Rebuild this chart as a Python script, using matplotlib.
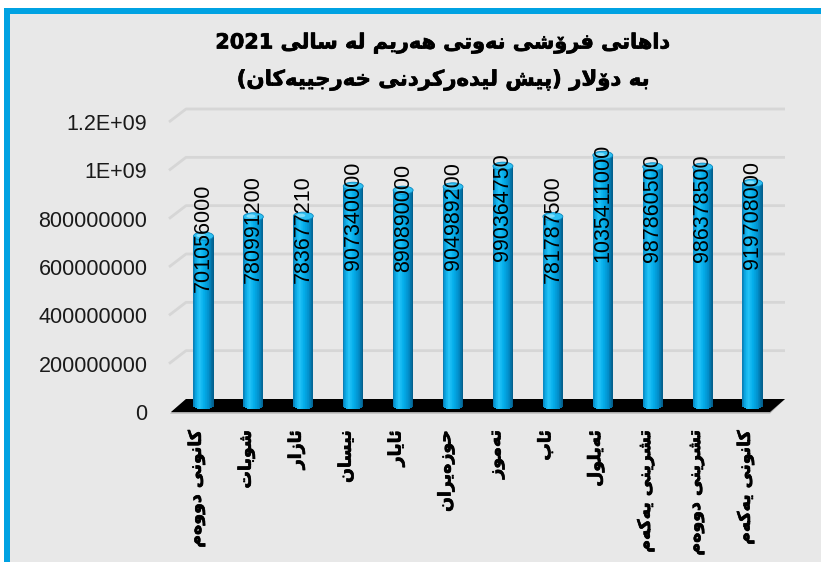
import numpy as np
import matplotlib
matplotlib.use('Agg')
import matplotlib.pyplot as plt
from matplotlib import font_manager, ft2font
from matplotlib.font_manager import FontProperties
from matplotlib.patches import Rectangle, Ellipse
from matplotlib.lines import Line2D
import matplotlib.patheffects as pe
import matplotlib.colors as mcolors

# ---------------- data ----------------
months = ['کانونی دووەم', 'شوبات', 'ئازار', 'نیسان', 'ئایار', 'حوزەیران',
          'تەموز', 'ئاب', 'ئەیلول', 'تشرینی یەکەم', 'تشرینی دووەم', 'کانونی یەکەم']
revenue = [701056000, 780991200, 783677210, 907340000, 890890000, 904989200,
           990364750, 781787500, 1035411000, 987860500, 986378500, 919708000]
value_labels = [str(v) for v in revenue]
ytick_values = [0, 2e8, 4e8, 6e8, 8e8, 1e9, 1.2e9]
ytick_labels = ['0', '200000000', '400000000', '600000000', '800000000', '1E+09', '1.2E+09']
title_line1 = 'داهاتی فرۆشی نەوتی هەرێم لە ساڵی 2021'
title_line2 = 'بە دۆلار (پێش لێدەرکردنی خەرجییەکان)'

# ---------------- minimal Arabic-script shaping ----------------
FORMS = {
    '\u0627': ('\uFE8D', '\uFE8E', None, None),
    '\u062F': ('\uFEA9', '\uFEAA', None, None),
    '\u0631': ('\uFEAD', '\uFEAE', None, None),
    '\u0632': ('\uFEAF', '\uFEB0', None, None),
    '\u0648': ('\uFEED', '\uFEEE', None, None),
    '\u06C6': ('\uFBD9', '\uFBDA', None, None),
    '\u06D5': ('\u06D5', '\uFEEA', None, None),
    '\u0647': ('\uFEE9', '\uFEEA', '\uFEEB', '\uFEEC'),
    '\u062A': ('\uFE95', '\uFE96', '\uFE97', '\uFE98'),
    '\u06CC': ('\uFBFC', '\uFBFD', '\uFBFE', '\uFBFF'),
    '\u06CE': ('\u06CE', '\uFBFD', '\uFBFE', '\uFBFF'),
    '\u0641': ('\uFED1', '\uFED2', '\uFED3', '\uFED4'),
    '\u0634': ('\uFEB5', '\uFEB6', '\uFEB7', '\uFEB8'),
    '\u0646': ('\uFEE5', '\uFEE6', '\uFEE7', '\uFEE8'),
    '\u0645': ('\uFEE1', '\uFEE2', '\uFEE3', '\uFEE4'),
    '\u0644': ('\uFEDD', '\uFEDE', '\uFEDF', '\uFEE0'),
    '\u06B5': ('\u06B5', '\uFEDE', '\uFEDF', '\uFEE0'),
    '\u0633': ('\uFEB1', '\uFEB2', '\uFEB3', '\uFEB4'),
    '\u0628': ('\uFE8F', '\uFE90', '\uFE91', '\uFE92'),
    '\u067E': ('\uFB56', '\uFB57', '\uFB58', '\uFB59'),
    '\u062E': ('\uFEA5', '\uFEA6', '\uFEA7', '\uFEA8'),
    '\u062C': ('\uFE9D', '\uFE9E', '\uFE9F', '\uFEA0'),
    '\u06A9': ('\uFB8E', '\uFB8F', '\uFB90', '\uFB91'),
    '\u0626': ('\uFE89', '\uFE8A', '\uFE8B', '\uFE8C'),
    '\u062D': ('\uFEA1', '\uFEA2', '\uFEA3', '\uFEA4'),
}
FALLBACK = {'\u06D5': '\uFEE9', '\u06CE': '\uFBFC', '\u06B5': '\uFEDD'}


def _dual(c):
    return c in FORMS and FORMS[c][2] is not None


def shape(text, cmap=None):
    chars = list(text)
    n = len(chars)
    out = []
    i = 0
    while i < n:
        c = chars[i]
        if c not in FORMS:
            out.append(c)
            i += 1
            continue
        pj = i > 0 and _dual(chars[i - 1])
        if c == '\u0644' and i + 1 < n and chars[i + 1] == '\u0627':
            out.append('\uFEFC' if pj else '\uFEFB')
            i += 2
            continue
        nxt = chars[i + 1] if i + 1 < n else ''
        nj = _dual(c) and nxt in FORMS
        iso, fin, ini, med = FORMS[c]
        g = med if (pj and nj) else fin if pj else ini if nj else iso
        out.append(g)
        i += 1
    if cmap is not None:
        out = [FALLBACK.get(g, g) if (ord(g) not in cmap) else g for g in out]
    vis = out[::-1]
    res = []
    k = 0
    while k < len(vis):
        if vis[k] in '0123456789':
            j = k
            while j < len(vis) and vis[j] in '0123456789.,':
                j += 1
            res.extend(vis[k:j][::-1])
            k = j
        else:
            ch = {'(': ')', ')': '('}.get(vis[k], vis[k])
            res.append(ch)
            k += 1
    return ''.join(res)


def cmap_of(weight):
    path = font_manager.findfont(FontProperties(family='DejaVu Sans', weight=weight))
    return ft2font.FT2Font(path).get_charmap()


cmap_bold = cmap_of('bold')
cmap_reg = cmap_of('normal')
needed = set(''.join(shape(t) for t in months + [title_line1, title_line2]))
bold_ok = all(ord(c) in cmap_bold for c in needed if ord(c) > 127)
AR_WEIGHT = 'bold' if bold_ok else 'normal'
AR_CMAP = cmap_bold if bold_ok else cmap_reg
AR_FX = [pe.withStroke(linewidth=0.5, foreground='black')] if bold_ok else \
        [pe.withStroke(linewidth=1.0, foreground='black')]

# ---------------- figure ----------------
W, H = 821, 562
fig = plt.figure(figsize=(W / 100, H / 100), dpi=100, facecolor='white')
BG = '#E8E8E8'
BLUE = '#00A2E2'
fig.patches.append(Rectangle((6.5 / W, 0), 1 - 6.5 / W, (H - 11) / H,
                             transform=fig.transFigure, facecolor=BG,
                             edgecolor='none', zorder=-5))
fig.lines.append(Line2D([6.5 / W, 1.0], [(H - 11) / H, (H - 11) / H],
                        transform=fig.transFigure, color=BLUE, lw=6 * 0.72,
                        solid_capstyle='projecting', zorder=-4))
fig.lines.append(Line2D([6.5 / W, 6.5 / W], [0.0, (H - 11) / H],
                        transform=fig.transFigure, color=BLUE, lw=6 * 0.72,
                        solid_capstyle='projecting', zorder=-4))

ax = fig.add_axes([171 / W, (H - 412) / H, 599 / W, 290 / H])
ax.set_zorder(2)
ax.set_xlim(-0.5, 11.5)
ax.set_ylim(0, 1.2e9)
ax.patch.set_visible(False)
for s in ax.spines.values():
    s.set_visible(False)

px_x = 12 / 599.0
px_y = 1.2e9 / 290.0
BX, BY = 15 * px_x, 13 * px_y      # back-wall depth offset
MX, MY = 7.5 * px_x, 6.5 * px_y    # bar plane offset

# gridlines on the back wall with side stub
for yv in ytick_values[1:]:
    ax.plot([-0.5 - 2 * px_x, -0.5 + BX, 11.5 + BX], [yv, yv + BY, yv + BY],
            color='#D6D6D6', lw=2, zorder=1, clip_on=False, solid_capstyle='butt')

# floor
ax.fill([-0.5 - 1 * px_x, -0.5 + BX, 11.5 + BX, 11.5], [-1.5 * px_y, BY, BY, -1.5 * px_y],
        color='#A8A8A8', zorder=1.5, clip_on=False, lw=0)
ax.fill([-0.5, -0.5 + BX, 11.5 + BX, 11.5], [0, BY, BY, 0],
        color='black', zorder=2, clip_on=False, lw=0)

# cylinders
x = np.arange(len(revenue))
vals = np.array(revenue, dtype=float)
bw = 0.4
N = 30
stops_u = [-1.0, -0.75, -0.4, 0.05, 0.55, 1.0]
stops_c = ['#0A7AB0', '#0AA6E2', '#25C4F7', '#04AEEB', '#028FCB', '#035C88']
stops_rgb = np.array([mcolors.to_rgb(c) for c in stops_c])
h_ell = 4 * px_y
for j in range(N):
    u = -1 + (2 * j + 1) / N
    col = [np.interp(u, stops_u, stops_rgb[:, k]) for k in range(3)]
    d = h_ell * np.sqrt(max(0.0, 1 - u * u))
    ax.bar(x + MX + u * bw / 2, vals + d, bottom=MY - d, width=bw / N * 1.2,
           color=col, linewidth=0, zorder=3)
for xi, v in zip(x, vals):
    ax.add_patch(Ellipse((xi + MX, v + MY), width=bw, height=2 * h_ell,
                         facecolor='#2FC0F2', edgecolor='#0B88BF', lw=0.6, zorder=4))
    ax.add_patch(Ellipse((xi + MX - 0.05, v + MY + 0.6 * px_y), width=bw * 0.45,
                         height=h_ell * 0.9, facecolor='#7FDDFA', lw=0, zorder=4.1))

# value labels
for xi, v, lab in zip(x, vals, value_labels):
    ax.text(xi + MX, MY + 387e6 + 0.437 * v, lab, rotation=90, ha='center', va='center',
            fontsize=15.5, family='Liberation Sans', color='black', zorder=6)

# axes ticks
ax.set_yticks(ytick_values, ytick_labels)
ax.tick_params(axis='y', length=0, pad=17, labelsize=15.5, labelcolor='#1A1A1A')
for t in ax.get_yticklabels():
    t.set_fontfamily('Liberation Sans')
ax.set_xticks(x, [shape(m, AR_CMAP) for m in months])
ax.tick_params(axis='x', length=0, pad=13)
for t in ax.get_xticklabels():
    t.set_rotation(90)
    t.set_fontfamily('DejaVu Sans')
    t.set_fontweight(AR_WEIGHT)
    t.set_fontsize(12.5)
    t.set_color('black')
    t.set_path_effects(AR_FX)

# title
fig.text(443 / W, 1 - 43 / H, shape(title_line1, AR_CMAP), ha='center', va='center',
         fontsize=15, fontweight=AR_WEIGHT, family='DejaVu Sans', color='black',
         path_effects=AR_FX)
fig.text(443 / W, 1 - 80 / H, shape(title_line2, AR_CMAP), ha='center', va='center',
         fontsize=15.3, fontweight=AR_WEIGHT, family='DejaVu Sans', color='black',
         path_effects=AR_FX)

fig.savefig('out.png', dpi=100, facecolor='white')
